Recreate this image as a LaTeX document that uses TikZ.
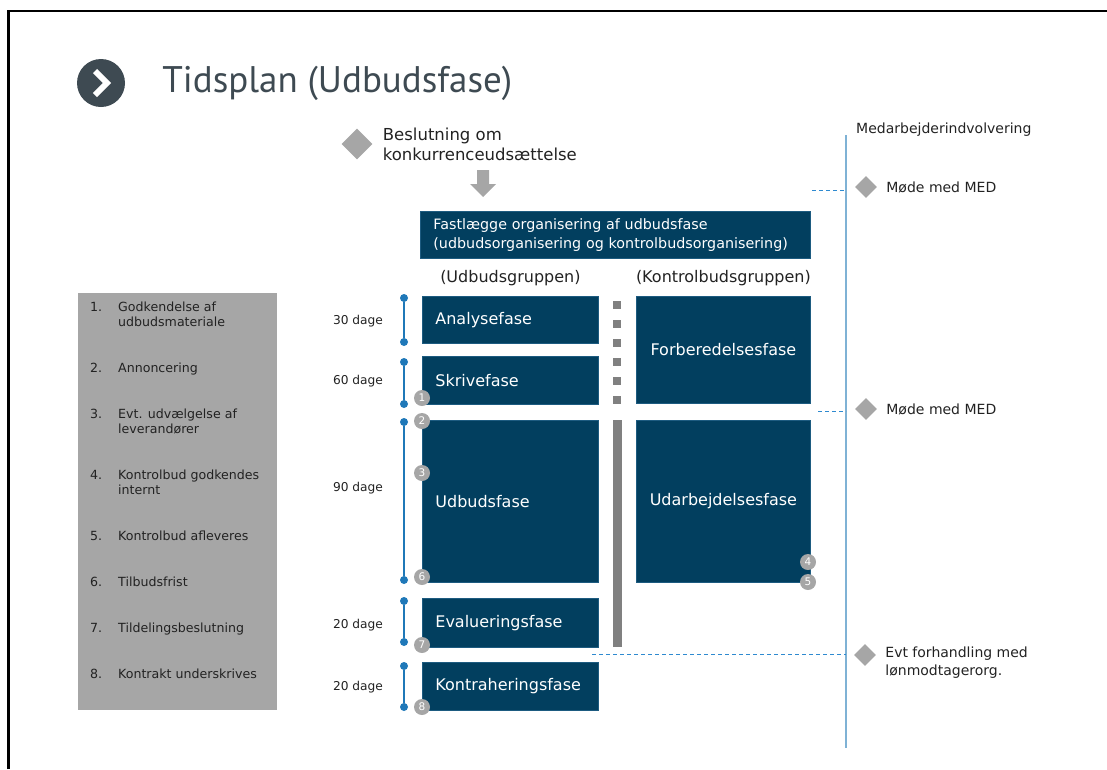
\documentclass[tikz,border=0pt]{standalone}
\usepackage{fontspec}
\setmainfont{DejaVu Sans}
\newfontfamily\titlefont{PT Sans}
\usetikzlibrary{positioning, shapes.geometric, calc}
\definecolor{udblue}{HTML}{023F5F}
\definecolor{udedge}{HTML}{1D5B80}
\definecolor{tlblue}{HTML}{1F78B8}
\definecolor{medblue}{HTML}{7FB2D5}
\definecolor{dashblue}{HTML}{2E8AD0}
\definecolor{lgrey}{HTML}{A6A6A6}
\definecolor{sgrey}{HTML}{808080}
\definecolor{tgrey}{HTML}{3E4A52}
\definecolor{txt}{HTML}{222222}

\begin{document}
\begin{tikzpicture}[x=1pt, y=-1pt, text=txt,
    phase/.style={rectangle, fill=udblue, draw=udedge, line width=0.8pt,
                  text=white, font=\fontsize{16}{20}\selectfont,
                  inner xsep=13pt, inner ysep=0pt, anchor=north west,
                  text width=150pt, align=left},
    phasec/.style={phase, text width=148pt, align=center},
    grp/.style={font=\fontsize{16}{20}\selectfont, inner sep=0pt},
    days/.style={font=\fontsize{12.2}{14}\selectfont, inner sep=0pt},
    tldot/.style={circle, fill=tlblue, inner sep=0pt, minimum size=8pt},
    tl/.style={tlblue, line width=1.5pt},
    badge/.style={circle, fill=lgrey, text=white, inner sep=0pt,
                  minimum size=16pt, font=\fontsize{10.5}{10.5}\selectfont},
    dia/.style={diamond, fill=lgrey, inner sep=0pt, minimum size=22pt},
    medtxt/.style={font=\fontsize{14}{18}\selectfont, inner sep=0pt, align=left},
    medlink/.style={dashblue, line width=0.8pt, dash pattern=on 4pt off 3pt},
    item/.style={font=\fontsize{12.6}{15.5}\selectfont, inner sep=0pt, anchor=west}
  ]
  \useasboundingbox (0,0) rectangle (1107,769);
  \draw[line width=2.5pt, black] (8.5,769) -- (8.5,11) -- (1107,11);

  % Title
  \node[circle, fill=tgrey, minimum size=48pt, inner sep=0pt] (chev) at (101,83) {};
  \draw[white, line width=6pt] ($(chev)+(-6,-12)$) -- ($(chev)+(6,0)$) -- ($(chev)+(-6,12)$);
  \node[right=37pt of chev, inner sep=0pt, text=tgrey,
        font=\titlefont\fontsize{37}{40}\selectfont] (title) {Tidsplan (Udbudsfase)};

  % Beslutning
  \node[dia, minimum size=31pt] (besl) at (357,144) {};
  \node[right=10pt of besl, inner sep=0pt, align=left,
        font=\fontsize{16.5}{20}\selectfont] (beslt) {Beslutning om\\konkurrenceudsættelse};
  \coordinate (arw) at (483,170);
  \fill[lgrey] (arw) ++(-6,0) -- ++(12,0) -- ++(0,14) -- ++(7,0) -- ++(-13,13)
               -- ++(-13,-13) -- ++(7,0) -- cycle;

  \node[phase, text width=364pt, minimum height=47pt,
        font=\fontsize{14.3}{19}\selectfont] (org) at (420,211)
        {Fastlægge organisering af udbudsfase\\(udbudsorganisering og kontrolbudsorganisering)};

  % Udbudsgruppen
  \node[phase, minimum height=47pt] (analyse) at (422,296) {Analysefase};
  \node[phase, minimum height=48pt] (skrive) at (422,356) {Skrivefase};
  \node[phase, minimum height=162pt] (udbud) at (422,420) {Udbudsfase};
  \node[phase, minimum height=49pt] (eval) at (422,598) {Evalueringsfase};
  \node[phase, minimum height=48pt] (kontra) at (422,662) {Kontraheringsfase};

  % Kontrolbudsgruppen
  \node[phasec, minimum height=107pt] (forb) at (636,296) {Forberedelsesfase};
  \node[phasec, minimum height=162pt] (udarb) at (636,420) {Udarbejdelsesfase};

  \node[grp, above=10pt of analyse] (ugrp) {(Udbudsgruppen)};
  \node[grp, above=10pt of forb] (kgrp) {(Kontrolbudsgruppen)};

  % Separator
  \foreach \y in {305,324,...,400} \fill[sgrey] (613,\y-4) rectangle ++(8,8);
  \fill[sgrey] (613,420) rectangle (622,647);

  % Timeline
  \node[tldot] (d1a) at (404,298) {};
  \node[tldot] (d1b) at (404,342) {};
  \node[tldot] (d2a) at (404,362) {};
  \node[tldot] (d2b) at (404,404) {};
  \node[tldot] (d3a) at (404,422) {};
  \node[tldot] (d3b) at (404,580) {};
  \node[tldot] (d4a) at (404,601) {};
  \node[tldot] (d4b) at (404,642) {};
  \node[tldot] (d5a) at (404,666) {};
  \node[tldot] (d5b) at (404,707) {};
  \draw[tl] (d1a) -- (d1b);
  \draw[tl] (d2a) -- (d2b);
  \draw[tl] (d3a) -- (d3b);
  \draw[tl] (d4a) -- (d4b);
  \draw[tl] (d5a) -- (d5b);
  \node[days] (t1) at (358,321) {30 dage};
  \node[days] (t2) at (358,381) {60 dage};
  \node[days] (t3) at (358,488) {90 dage};
  \node[days] (t4) at (358,625) {20 dage};
  \node[days] (t5) at (358,687) {20 dage};

  % Milestones
  \node[badge] (b1) at (422,398) {1};
  \node[badge] (b2) at (422,421) {2};
  \node[badge] (b3) at (422,473) {3};
  \node[badge] (b6) at (422,577) {6};
  \node[badge] (b7) at (422,645) {7};
  \node[badge] (b8) at (422,707) {8};
  \node[badge] (b4) at (808,562) {4};
  \node[badge] (b5) at (808,582) {5};

  % Milestone list
  \node[fill=lgrey, minimum width=199pt, minimum height=417pt, inner sep=0pt,
        anchor=north west] (lst) at (78,293) {};
  \node[item] (it1) at (90,316) {\begin{tabular}{@{}p{28pt}@{}l@{}}1. & Godkendelse af\\ & udbudsmateriale\end{tabular}};
  \node[item] (it2) at (90,369) {\begin{tabular}{@{}p{28pt}@{}l@{}}2. & Annoncering\end{tabular}};
  \node[item] (it3) at (90,423) {\begin{tabular}{@{}p{28pt}@{}l@{}}3. & Evt. udvælgelse af\\ & leverandører\end{tabular}};
  \node[item] (it4) at (90,484) {\begin{tabular}{@{}p{28pt}@{}l@{}}4. & Kontrolbud godkendes\\ & internt\end{tabular}};
  \node[item] (it5) at (90,537) {\begin{tabular}{@{}p{28pt}@{}l@{}}5. & Kontrolbud afleveres\end{tabular}};
  \node[item] (it6) at (90,583) {\begin{tabular}{@{}p{28pt}@{}l@{}}6. & Tilbudsfrist\end{tabular}};
  \node[item] (it7) at (90,629) {\begin{tabular}{@{}p{28pt}@{}l@{}}7. & Tildelingsbeslutning\end{tabular}};
  \node[item] (it8) at (90,675) {\begin{tabular}{@{}p{28pt}@{}l@{}}8. & Kontrakt underskrives\end{tabular}};

  % Medarbejderindvolvering
  \coordinate (medtop) at (846,135);
  \coordinate (medbot) at (846,748);
  \draw[medblue, line width=1.2pt] (medtop) -- (medbot);
  \node[medtxt, anchor=west] (medhead) at (856,130) {Medarbejderindvolvering};

  \node[dia] (med1) at (866,187) {};
  \node[medtxt, right=9pt of med1] (med1t) {Møde med MED};
  \coordinate (l1) at (812,190);
  \draw[medlink] (l1) -- (l1 -| medtop);

  \node[dia] (med2) at (866,409) {};
  \node[medtxt, right=9pt of med2] (med2t) {Møde med MED};
  \coordinate (l2) at (818,411);
  \draw[medlink] (l2) -- (l2 -| medtop);

  \node[dia] (med3) at (865,655) {};
  \node[medtxt, right=9pt of med3, yshift=-8pt] (med3t) {Evt forhandling med\\lønmodtagerorg.};
  \coordinate (l3) at (592,654);
  \draw[medlink] (l3) -- (l3 -| medtop);
\end{tikzpicture}
\end{document}
